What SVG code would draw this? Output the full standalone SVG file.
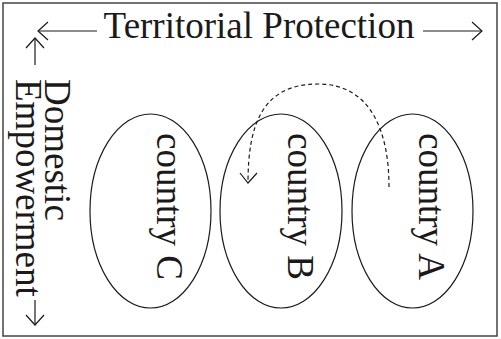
<svg xmlns="http://www.w3.org/2000/svg" width="501" height="339" viewBox="0 0 501 339">
<style>
text{font-family:"Liberation Serif","Times New Roman",serif;font-size:37px;fill:#1a1a1a}
.node ellipse{fill:none;stroke:#1a1a1a;stroke-width:1.2}
.ax{fill:none;stroke:#1a1a1a;stroke-width:1.2}
.dash{fill:none;stroke:#1a1a1a;stroke-width:1.2;stroke-dasharray:4 3}
</style>
<defs>
<marker id="ah" markerUnits="userSpaceOnUse" markerWidth="24" markerHeight="24" viewBox="-12 -12 24 24" refX="0" refY="0" orient="auto">
<path d="M-10,-9 L0,0 L-10,9" fill="none" stroke="#1a1a1a" stroke-width="1.2"/>
</marker>
</defs>
<rect x="3" y="3" width="494" height="333" fill="#fff" stroke="#444" stroke-width="1.5"/>
<g id="title">
<text x="259" y="38" text-anchor="middle">Territorial Protection</text>
</g>
<g id="axis-label">
<text transform="translate(45,79) rotate(90)">Domestic</text>
<text transform="translate(16,79) rotate(90)">Empowerment</text>
</g>
<g id="countryC" class="node">
<ellipse cx="150.5" cy="211" rx="60.5" ry="97"/>
<text transform="translate(157,133) rotate(90)">country C</text>
</g>
<g id="countryB" class="node">
<ellipse cx="281" cy="211" rx="61" ry="97"/>
<text transform="translate(288,133) rotate(90)">country B</text>
</g>
<g id="countryA" class="node">
<ellipse cx="412.5" cy="211" rx="60.5" ry="97"/>
<text transform="translate(419,133) rotate(90)">country A</text>
</g>
<g id="connectors">
<line class="ax" x1="97" y1="31" x2="38" y2="31" marker-end="url(#ah)"/>
<line class="ax" x1="423" y1="31" x2="482" y2="31" marker-end="url(#ah)"/>
<line class="ax" x1="35" y1="65" x2="35" y2="38" marker-end="url(#ah)"/>
<line class="ax" x1="35" y1="300" x2="35" y2="325" marker-end="url(#ah)"/>
<path class="dash" d="M389,187 C389,130 370,84 318,84 C262,84 248,125 248,183"/>
<path class="ax" d="M240,173 L248,183 L257,173"/>
</g>
</svg>
